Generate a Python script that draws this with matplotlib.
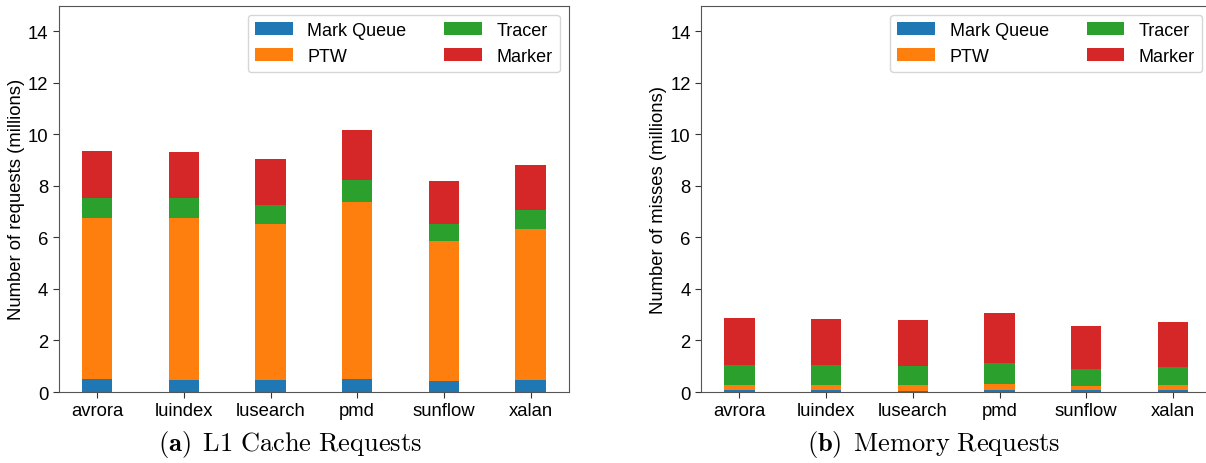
import matplotlib
matplotlib.use("Agg")
import matplotlib.pyplot as plt
import numpy as np

plt.rcParams['font.family'] = ['Liberation Sans', 'DejaVu Sans']
plt.rcParams['mathtext.fontset'] = 'cm'

benchmarks = ['avrora', 'luindex', 'lusearch', 'pmd', 'sunflow', 'xalan']
series = ['Mark Queue', 'PTW', 'Tracer', 'Marker']
colors = ['#1f77b4', '#ff7f0e', '#2ca02c', '#d62728']

# L1 cache requests (millions), per component
l1_mark_queue = [0.52, 0.48, 0.48, 0.52, 0.44, 0.48]
l1_ptw = [6.24, 6.28, 6.04, 6.86, 5.44, 5.85]
l1_tracer = [0.77, 0.77, 0.75, 0.85, 0.64, 0.74]
l1_marker = [1.82, 1.78, 1.77, 1.94, 1.67, 1.74]

# Memory requests (millions), per component
mem_mark_queue = [0.06, 0.06, 0.02, 0.06, 0.06, 0.06]
mem_ptw = [0.22, 0.22, 0.26, 0.26, 0.18, 0.22]
mem_tracer = [0.78, 0.78, 0.74, 0.82, 0.67, 0.70]
mem_marker = [1.82, 1.78, 1.78, 1.93, 1.66, 1.74]

captions = [r'$\mathbf{(a)}\ \,\mathrm{L1\ Cache\ Requests}$',
            r'$\mathbf{(b)}\ \,\mathrm{Memory\ Requests}$']
caption_x = [0.2405, 0.774]
ylabels = ['Number of requests (millions)', 'Number of misses (millions)']

fig = plt.figure(figsize=(12.06, 4.64), dpi=100)
ax1 = fig.add_axes([0.0487, 0.153, 0.4231, 0.8326])
ax2 = fig.add_axes([0.5813, 0.153, 0.4231, 0.8326])

x = np.arange(len(benchmarks))
width = 0.35

datasets = [[l1_mark_queue, l1_ptw, l1_tracer, l1_marker],
            [mem_mark_queue, mem_ptw, mem_tracer, mem_marker]]

for ax, data, ylabel, cap, cx in zip([ax1, ax2], datasets, ylabels, captions, caption_x):
    bottom = np.zeros(len(benchmarks))
    for vals, name, c in zip(data, series, colors):
        ax.bar(x, vals, width, bottom=bottom, label=name, color=c)
        bottom += np.array(vals)
    ax.set_ylim(0, 15)
    ax.set_yticks([0, 2, 4, 6, 8, 10, 12, 14])
    ax.set_xticks(x)
    ax.set_xticklabels(benchmarks)
    ax.tick_params(labelsize=13.3, length=4, color='#333333')
    ax.set_ylabel(ylabel, fontsize=13.3, labelpad=2)
    for s in ax.spines.values():
        s.set_color('#555555')
    ax.legend(ncol=2, loc='upper right', fontsize=13, columnspacing=2.1,
              handlelength=2.1, handletextpad=0.8)
    fig.text(cx, 0.043, cap, ha='center', va='center', fontsize=19)

fig.savefig('out.png', dpi=100)
